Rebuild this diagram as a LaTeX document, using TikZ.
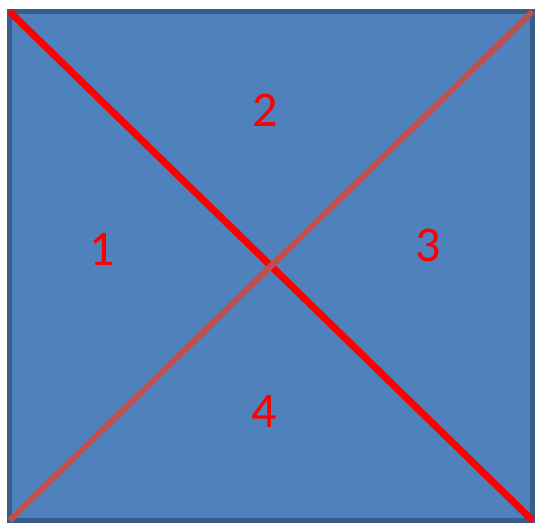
\documentclass[tikz,border=0pt]{standalone}
\usepackage{fontspec}
\newfontfamily\calfont{Carlito}
\definecolor{boxfill}{HTML}{4F81BD}
\definecolor{boxline}{HTML}{385D8A}
\definecolor{diagred}{HTML}{FF0000}
\definecolor{diagbrown}{HTML}{C0504D}
\begin{document}
\begin{tikzpicture}[x=1pt,y=-1pt,
  lbl/.style={text=diagred,font=\calfont\fontsize{50}{52}\selectfont,inner sep=0pt,anchor=center}]
\useasboundingbox (0,0) rectangle (535,523);
\coordinate (tl) at (9.5,11.5);
\coordinate (tr) at (532.5,11.5);
\coordinate (bl) at (9.5,520.5);
\coordinate (br) at (532.5,520.5);
\filldraw[fill=boxfill,draw=boxline,line width=4.5pt] (tl) rectangle (br);
\draw[diagred,line width=7pt] (tl) -- (br);
\draw[diagbrown,line width=6pt] (bl) -- (tr);
\node[lbl] (n1) at (102,249) {1};
\node[lbl] (n2) at (265,110) {2};
\node[lbl] (n3) at (428,245) {3};
\node[lbl] (n4) at (264,411) {4};
\end{tikzpicture}
\end{document}
